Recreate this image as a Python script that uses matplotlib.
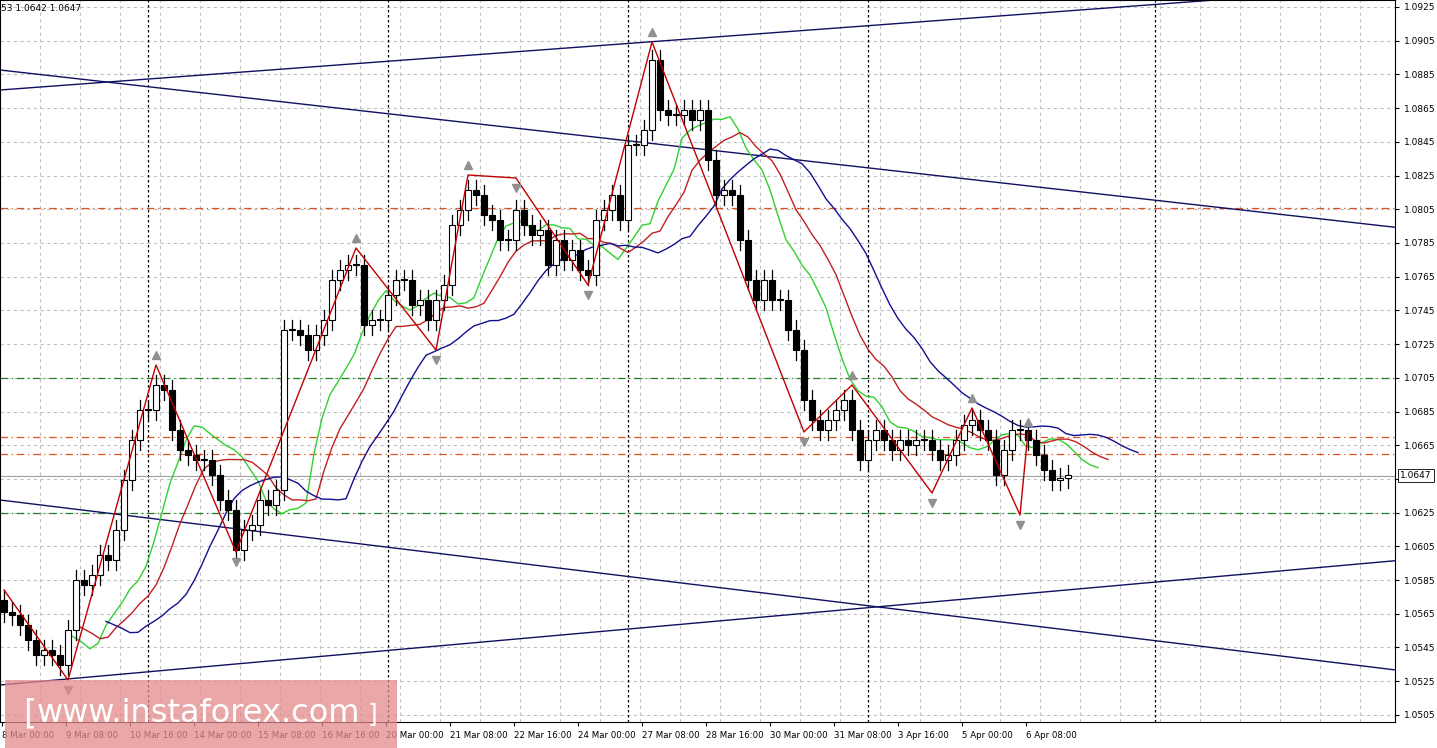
import numpy as np
import matplotlib.pyplot as plt
from matplotlib.patches import Rectangle

# EURUSD H4 - closes (pixel rows converted to price below)
close_px = [612, 615, 625, 640, 655, 650, 655, 665, 630, 580, 585, 575, 555, 560, 530, 480,
            440, 410, 410, 385, 390, 430, 450, 455, 460, 460, 475, 500, 510, 550, 530, 525,
            500, 505, 490, 330, 330, 335, 350, 335, 320, 280, 270, 265, 265, 325, 320, 320,
            295, 280, 280, 305, 300, 320, 300, 285, 225, 210, 190, 195, 215, 220, 240, 240,
            210, 225, 235, 230, 265, 240, 260, 250, 270, 275, 220, 210, 195, 220, 145, 145,
            130, 60, 110, 115, 115, 110, 120, 110, 160, 195, 190, 195, 240, 280, 300, 280,
            300, 300, 330, 350, 400, 420, 430, 420, 410, 400, 430, 460, 440, 430, 440, 450,
            440, 445, 440, 440, 450, 460, 455, 440, 425, 420, 430, 440, 475, 450, 430, 430,
            440, 455, 470, 480, 478, 475]
open0_px = 600

# zigzag swing points (bar index, pixel row)
zz_idx = [0, 8, 19, 29, 44, 54, 58, 64, 73, 81, 100, 106, 116, 121, 127, 128]
zz_px = [590, 680, 365, 552, 248, 350, 175, 178, 285, 42, 432, 385, 493, 408, 515, 432]

hlines_orange = [1.0806, 1.0670, 1.0660]
hlines_green = [1.0705, 1.0625]
last_price = 1.0647

date_labels = ["8 Mar 00:00", "9 Mar 08:00", "10 Mar 16:00", "14 Mar 00:00", "15 Mar 08:00",
               "16 Mar 16:00", "20 Mar 00:00", "21 Mar 08:00", "22 Mar 16:00", "24 Mar 00:00",
               "27 Mar 08:00", "28 Mar 16:00", "30 Mar 00:00", "31 Mar 08:00", "3 Apr 16:00",
               "5 Apr 00:00", "6 Apr 08:00"]

def px2p(y):
    return 1.0925 - (np.asarray(y) - 7) * 0.002 / 33.71

closes = px2p(close_px)
opens = np.concatenate([[px2p(open0_px)], closes[:-1]])
highs = np.maximum(opens, closes) + 0.0006
lows = np.minimum(opens, closes) - 0.0006
n = len(closes)
xs = 4 + 8 * np.arange(n)

fig = plt.figure(figsize=(14.37, 7.48), dpi=100)
ax = fig.add_axes([0, 26 / 748, 1395 / 1437, 722 / 748])
ax.set_xlim(0, 1395)
ax.set_ylim(px2p(722), px2p(0))

# grid
yt = np.arange(1.0505, 1.0926, 0.002)
for p in yt:
    ax.axhline(p, color="#c0c0c0", ls=(0, (3, 3)), lw=0.8, zorder=0)
for x in np.arange(40, 1395, 40):
    ax.axvline(x, color="#c0c0c0", ls=(0, (3, 3)), lw=0.8, zorder=0)
for x in [148, 388, 628, 868, 1155]:
    ax.axvline(x, color="black", ls=(0, (2, 2)), lw=0.9, zorder=1)

for p in hlines_orange:
    ax.axhline(p, color="#e05020", ls=(0, (6, 3, 1, 3)), lw=0.9, zorder=1)
for p in hlines_green:
    ax.axhline(p, color="#208020", ls=(0, (6, 3, 1, 3)), lw=0.9, zorder=1)
ax.axhline(last_price, color="#a0a0a0", lw=0.8, zorder=1)

# channel lines
for (x0, y0, x1, y1) in [(0, 90, 1215, 0), (0, 70, 1437, 232), (0, 500, 1437, 675), (0, 685, 1437, 557)]:
    ax.plot([x0, x1], px2p([y0, y1]), color="#101060", lw=1, zorder=2)

# moving averages
def ema(v, span):
    a = 2 / (span + 1)
    out = np.empty_like(v)
    out[0] = v[0]
    for i in range(1, len(v)):
        out[i] = a * v[i] + (1 - a) * out[i - 1]
    return out
ax.plot(xs[4:] + 30, ema(closes, 6)[4:], color="#30d030", lw=1, zorder=3)
ax.plot(xs[4:] + 40, ema(closes, 11)[4:], color="#c02020", lw=1, zorder=3)
ax.plot(xs[4:] + 70, ema(closes, 16)[4:], color="#101090", lw=1, zorder=3)

# candles
for x, o, c, h, l in zip(xs, opens, closes, highs, lows):
    ax.plot([x, x], [l, h], color="black", lw=0.9, zorder=4)
    fc = "white" if c >= o else "black"
    ax.add_patch(Rectangle((x - 3, min(o, c)), 6, max(abs(c - o), 0.00005),
                           facecolor=fc, edgecolor="black", lw=0.8, zorder=5))

# zigzag + fractal arrows
zx = xs[zz_idx]
zp = px2p(zz_px)
ax.plot(zx, zp, color="#c00000", lw=1, zorder=6)
for i in range(1, len(zx)):
    up = zp[i] > zp[i - 1]
    ax.plot(zx[i], zp[i] + (0.0006 if up else -0.0006), marker="^" if up else "v",
            color="#909090", ms=6, zorder=6)

# axis labels
ax.yaxis.tick_right()
ax.set_yticks(yt)
ax.set_yticklabels(["" if abs(p - 1.0645) < 1e-6 else f"{p:.4f}" for p in yt], fontsize=6.5)
ax.set_xticks(2 + 64 * np.arange(len(date_labels)))
ax.set_xticklabels(date_labels, fontsize=6.2, ha="left")
ax.tick_params(length=3)
ax.annotate(f"{last_price:.4f}", xy=(1395, last_price), xytext=(1400, last_price),
            fontsize=6.5, va="center", bbox=dict(fc="white", ec="black", lw=0.6, pad=1.5),
            annotation_clip=False)
fig.text(0.001, 0.995, "53 1.0642 1.0647", fontsize=6.5, va="top")

# watermark
fig.patches.append(Rectangle((5 / 1437, 0), 392 / 1437, 68 / 748, transform=fig.transFigure,
                             facecolor="#e48a8a", alpha=0.75, zorder=10))
fig.text(30 / 1437, 34 / 748, "[", color="white", fontsize=24, ha="center", va="center", zorder=11)
fig.text(198 / 1437, 34 / 748, "www.instaforex.com", color="white", fontsize=23,
         ha="center", va="center", zorder=11)
fig.text(372 / 1437, 34 / 748, "]", color="white", fontsize=18, ha="center", va="center", zorder=11)

fig.savefig("out.png", dpi=100)
